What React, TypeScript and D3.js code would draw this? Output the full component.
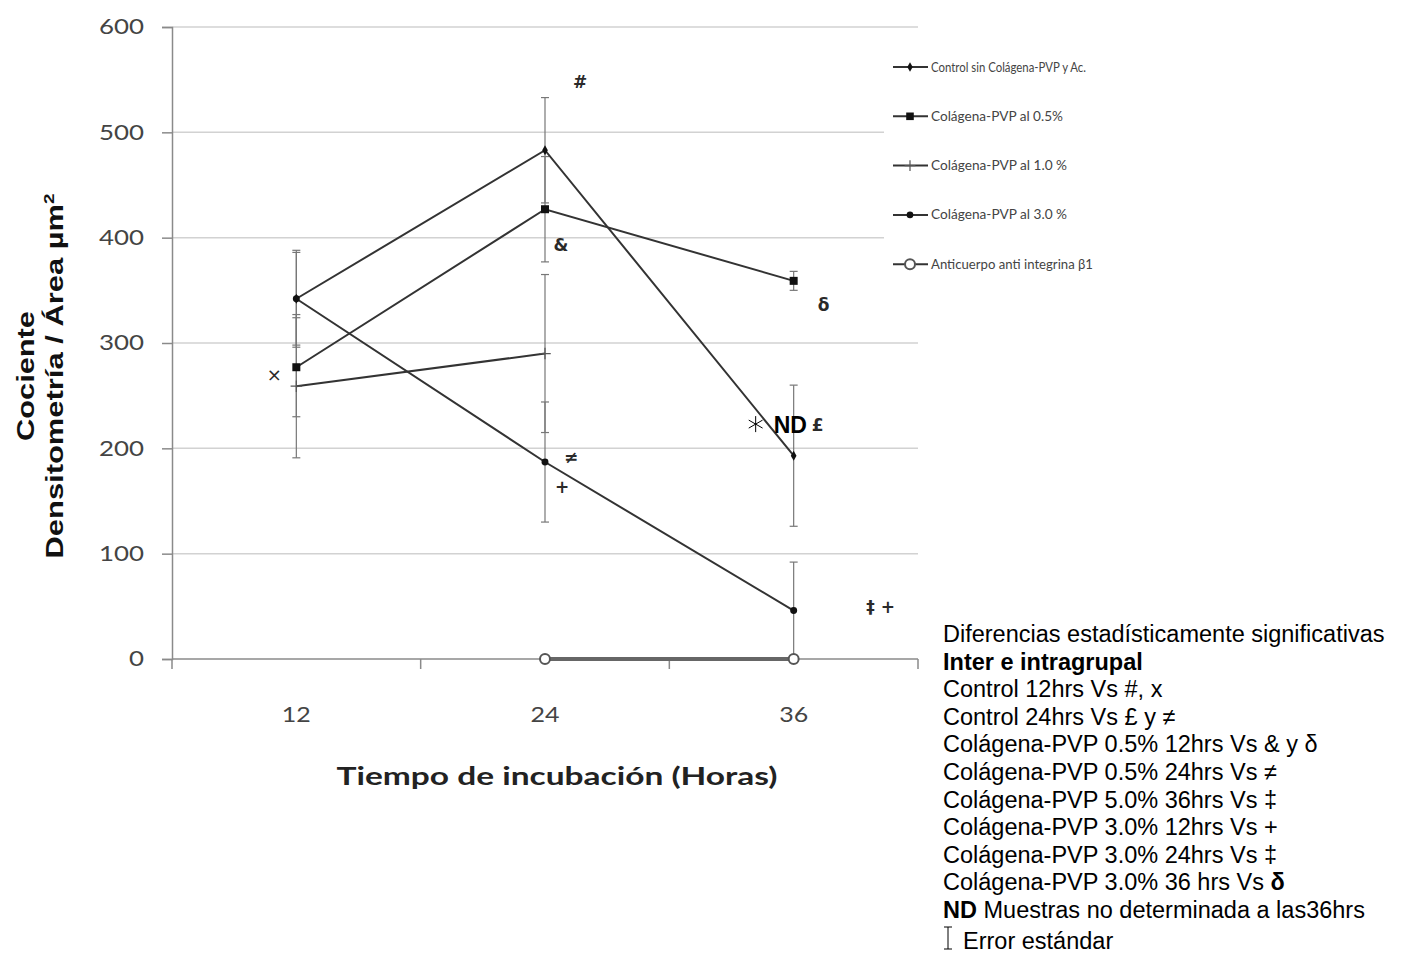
import React, { useEffect, useRef } from "react";
import * as d3 from "d3";

// horas de incubación
const categories = ["12", "24", "36"];
const yTicks = [0, 100, 200, 300, 400, 500, 600];

const seriesNames = [
  "Control sin Colágena-PVP y Ac.",
  "Colágena-PVP al 0.5%",
  "Colágena-PVP al 1.0 %",
  "Colágena-PVP al 3.0 %",
  "Anticuerpo  anti integrina β1",
];

const controlValues = [342, 483, 193];
const controlErrors = [44, 50, 67];
const pvp05Values = [277, 427, 359];
const pvp05Errors = [47, 50, 9];
const pvp10Values = [259, 290, null];
const pvp10Errors = [68, 75, null];
const pvp30Values = [342, 187, 46];
const pvp30Errors = [46, 57, 46];
const anticuerpoValues = [null, 0, 0];
const anticuerpoErrors = [null, 0, 0];

// marcas de significancia: categoría, valor, desplazamiento x
const annotLabels = ["#", "&", "×", "≠", "+", "δ", "£", "‡ +"];
const annotCats = ["24", "24", "12", "24", "24", "36", "36", "36"];
const annotValues = [548, 393, 270, 192, 163, 336, 222, 49];
const annotOffsets = [35, 16, -22, 26, 17, 30, 24, 87];

const notes = [
  "Diferencias estadísticamente significativas",
  "Inter e intragrupal",
  "Control 12hrs Vs #, x",
  "Control 24hrs Vs £ y ≠",
  "Colágena-PVP 0.5% 12hrs Vs & y δ",
  "Colágena-PVP 0.5% 24hrs Vs ≠",
  "Colágena-PVP 5.0% 36hrs Vs ‡",
  "Colágena-PVP 3.0% 12hrs Vs  +",
  "Colágena-PVP 3.0% 24hrs Vs ‡",
];

export default function App() {
  const svgRef = useRef<SVGSVGElement>(null);

  useEffect(() => {
    const svg = d3.select(svgRef.current);
    svg.selectAll("*").remove();

    const left = 172;
    const right = 918;
    const top = 27;
    const bottom = 659;

    const x = d3.scaleBand().domain(categories).range([left, right]);
    const cx = (c: string) => (x(c) as number) + x.bandwidth() / 2;
    const y = d3.scaleLinear().domain([0, 600]).range([bottom, top]);

    const lineColor = "#333";
    const axisColor = "#8a8a8a";

    // grid
    svg
      .append("g")
      .selectAll("line")
      .data(yTicks.filter((d) => d > 0))
      .join("line")
      .attr("x1", left)
      .attr("x2", right)
      .attr("y1", (d) => y(d))
      .attr("y2", (d) => y(d))
      .attr("stroke", "#d2d2d2")
      .attr("stroke-width", 1.5);

    // y axis
    const yAxis = svg
      .append("g")
      .attr("transform", `translate(${left},0)`)
      .call(d3.axisLeft(y).tickValues(yTicks).tickSize(10).tickPadding(18));
    yAxis.select(".domain").attr("stroke", axisColor).attr("stroke-width", 1.5);
    yAxis.selectAll(".tick line").attr("stroke", axisColor).attr("stroke-width", 1.5);
    yAxis
      .selectAll(".tick text")
      .attr("font-family", "Lato, 'Open Sans', sans-serif")
      .attr("font-size", 21)
      .attr("fill", "#444")
      .attr("textLength", (d: any) => String(d).length * 15)
      .attr("lengthAdjust", "spacingAndGlyphs");

    // x axis (ticks at band edges)
    const xEdges = d3.range(categories.length + 1).map((i) => left + i * x.step());
    const xAxis = svg.append("g");
    xAxis
      .append("line")
      .attr("x1", left)
      .attr("x2", right)
      .attr("y1", bottom)
      .attr("y2", bottom)
      .attr("stroke", axisColor)
      .attr("stroke-width", 1.5);
    xAxis
      .selectAll("line.tk")
      .data(xEdges)
      .join("line")
      .attr("class", "tk")
      .attr("x1", (d) => d)
      .attr("x2", (d) => d)
      .attr("y1", bottom)
      .attr("y2", bottom + 10)
      .attr("stroke", axisColor)
      .attr("stroke-width", 1.5);
    xAxis
      .selectAll("text")
      .data(categories)
      .join("text")
      .attr("x", (d) => cx(d))
      .attr("y", 722)
      .attr("text-anchor", "middle")
      .attr("font-family", "Lato, 'Open Sans', sans-serif")
      .attr("font-size", 21)
      .attr("fill", "#444")
      .attr("textLength", 29)
      .attr("lengthAdjust", "spacingAndGlyphs")
      .text((d) => d);

    // axis titles
    svg
      .append("text")
      .attr("x", 557)
      .attr("y", 785)
      .attr("text-anchor", "middle")
      .attr("font-family", "Lato, sans-serif")
      .attr("font-weight", "bold")
      .attr("font-size", 25)
      .attr("fill", "#222")
      .attr("textLength", 441)
      .attr("lengthAdjust", "spacingAndGlyphs")
      .text("Tiempo  de incubación (Horas)");

    const yTitle = svg
      .append("g")
      .attr("transform", "translate(0,376) rotate(-90)")
      .attr("font-family", "'Liberation Sans', Arial, sans-serif")
      .attr("font-weight", "bold")
      .attr("font-size", 23)
      .attr("fill", "#111")
      .attr("text-anchor", "middle");
    yTitle
      .append("text")
      .attr("x", 0)
      .attr("y", 34)
      .attr("textLength", 130)
      .attr("lengthAdjust", "spacingAndGlyphs")
      .text("Cociente");
    const dens = yTitle
      .append("text")
      .attr("x", 0)
      .attr("y", 63)
      .attr("textLength", 365)
      .attr("lengthAdjust", "spacingAndGlyphs");
    dens.append("tspan").text("Densitometría / Área µm");
    dens.append("tspan").attr("font-size", 14).attr("dy", -9).text("2");

    const series = [
      { values: controlValues, errors: controlErrors, marker: "diamond" },
      { values: pvp05Values, errors: pvp05Errors, marker: "square" },
      { values: pvp10Values, errors: pvp10Errors, marker: "plus" },
      { values: pvp30Values, errors: pvp30Errors, marker: "dot" },
      { values: anticuerpoValues, errors: anticuerpoErrors, marker: "circle" },
    ];

    // error bars
    const eb = svg.append("g").attr("stroke", "#777").attr("stroke-width", 1.2);
    series.forEach((s) => {
      s.values.forEach((v, i) => {
        const e = s.errors[i];
        if (v == null || e == null || e === 0) return;
        const xc = cx(categories[i]);
        eb.append("line").attr("x1", xc).attr("x2", xc).attr("y1", y(v - e)).attr("y2", y(v + e));
        [v - e, v + e].forEach((c) =>
          eb.append("line").attr("x1", xc - 4).attr("x2", xc + 4).attr("y1", y(c)).attr("y2", y(c))
        );
      });
    });

    const drawMarker = (g: any, type: string, px: number, py: number, scale = 1) => {
      if (type === "diamond") {
        g.append("path")
          .attr("d", d3.symbol(d3.symbolDiamond, 28 * scale)())
          .attr("transform", `translate(${px},${py})`)
          .attr("fill", "#111");
      } else if (type === "square") {
        g.append("path")
          .attr("d", d3.symbol(d3.symbolSquare, 64 * scale)())
          .attr("transform", `translate(${px},${py})`)
          .attr("fill", "#111");
      } else if (type === "plus") {
        g.append("path")
          .attr("d", d3.symbol(d3.symbolPlus, 45 * scale)())
          .attr("transform", `translate(${px},${py})`)
          .attr("fill", "none")
          .attr("stroke", "#555")
          .attr("stroke-width", 1.2);
      } else if (type === "dot") {
        g.append("path")
          .attr("d", d3.symbol(d3.symbolCircle, 38 * scale)())
          .attr("transform", `translate(${px},${py})`)
          .attr("fill", "#111");
      } else {
        g.append("circle")
          .attr("cx", px)
          .attr("cy", py)
          .attr("r", 5)
          .attr("fill", "white")
          .attr("stroke", "#555")
          .attr("stroke-width", 2);
      }
    };

    // lines
    series.forEach((s, si) => {
      const pts = s.values
        .map((v, i) => ({ v, c: categories[i] }))
        .filter((p) => p.v != null) as { v: number; c: string }[];
      const line = d3
        .line<{ v: number; c: string }>()
        .x((p) => cx(p.c))
        .y((p) => y(p.v));
      svg
        .append("path")
        .datum(pts)
        .attr("d", line)
        .attr("fill", "none")
        .attr("stroke", si === 4 ? "#666" : lineColor)
        .attr("stroke-width", si === 4 ? 4 : 2);
    });
    const mk = svg.append("g");
    series.forEach((s) => {
      s.values.forEach((v, i) => {
        if (v == null) return;
        drawMarker(mk, s.marker, cx(categories[i]), y(v));
      });
    });

    // significance marks
    svg
      .append("g")
      .selectAll("text")
      .data(annotLabels)
      .join("text")
      .attr("x", (d, i) => cx(annotCats[i]) + annotOffsets[i])
      .attr("y", (d, i) => y(annotValues[i]))
      .attr("dy", "0.35em")
      .attr("text-anchor", "middle")
      .attr("font-family", "'DejaVu Sans', sans-serif")
      .attr("font-weight", (d) => (d === "×" ? "normal" : "bold"))
      .attr("font-size", (d) => (d === "×" ? 18 : 17))
      .attr("fill", "#2a2a2a")
      .text((d) => d);

    // ND marker at 36 h
    const ndX = cx("36") - 20;
    const ndY = y(223);
    svg
      .append("text")
      .attr("x", ndX)
      .attr("y", ndY + 9)
      .attr("font-family", "'Liberation Sans', Arial, sans-serif")
      .attr("font-weight", "bold")
      .attr("font-size", 23)
      .attr("fill", "#000")
      .text("ND");
    const ast = svg.append("g").attr("stroke", "#000").attr("stroke-width", 1);
    [0, 60, 120].forEach((a) => {
      const r = (a * Math.PI) / 180;
      const ax = ndX - 18;
      const ay = ndY;
      ast
        .append("line")
        .attr("x1", ax - 8 * Math.sin(r))
        .attr("x2", ax + 8 * Math.sin(r))
        .attr("y1", ay - 8 * Math.cos(r))
        .attr("y2", ay + 8 * Math.cos(r));
    });

    // legend
    const legendWidths = [155, 132, 136, 136, 162];
    const legend = svg.append("g");
    legend
      .append("rect")
      .attr("x", 884)
      .attr("y", 40)
      .attr("width", 250)
      .attr("height", 250)
      .attr("fill", "white");
    seriesNames.forEach((name, i) => {
      const ly = 67 + i * 49.3;
      legend
        .append("line")
        .attr("x1", 893)
        .attr("x2", 928)
        .attr("y1", ly)
        .attr("y2", ly)
        .attr("stroke", "#333")
        .attr("stroke-width", 2);
      drawMarker(legend, series[i].marker, 910, ly, 0.9);
      legend
        .append("text")
        .attr("x", 931)
        .attr("y", ly)
        .attr("dy", "0.35em")
        .attr("font-family", "Lato, sans-serif")
        .attr("font-size", 13)
        .attr("fill", "#444")
        .attr("textLength", legendWidths[i])
        .attr("lengthAdjust", "spacingAndGlyphs")
        .text(name);
    });

    // notes block
    const nb = svg
      .append("g")
      .attr("font-family", "'Liberation Sans', Arial, sans-serif")
      .attr("font-size", 23.5)
      .attr("fill", "#000");
    notes.forEach((t, i) => {
      nb.append("text")
        .attr("x", 943)
        .attr("y", 642 + i * 27.6)
        .attr("font-weight", i === 1 ? "bold" : "normal")
        .text(t);
    });
    const l9 = nb.append("text").attr("x", 943).attr("y", 642 + 9 * 27.6);
    l9.append("tspan").text("Colágena-PVP 3.0% 36 hrs Vs ");
    l9.append("tspan").attr("font-weight", "bold").text("δ");
    const l10 = nb.append("text").attr("x", 943).attr("y", 642 + 10 * 27.6);
    l10.append("tspan").attr("font-weight", "bold").text("ND");
    l10.append("tspan").text(" Muestras no determinada a las36hrs");
    const ib = svg.append("g").attr("stroke", "#000").attr("stroke-width", 1);
    ib.append("line").attr("x1", 948).attr("x2", 948).attr("y1", 927).attr("y2", 949);
    ib.append("line").attr("x1", 944).attr("x2", 952).attr("y1", 927).attr("y2", 927);
    ib.append("line").attr("x1", 944).attr("x2", 952).attr("y1", 949).attr("y2", 949);
    nb.append("text").attr("x", 963).attr("y", 949).text("Error estándar");
  }, []);

  return (
    <div style={{ position: "absolute", left: 0, top: 0 }}>
      <svg ref={svgRef} width={1404} height={953} style={{ display: "block" }}></svg>
    </div>
  );
}
